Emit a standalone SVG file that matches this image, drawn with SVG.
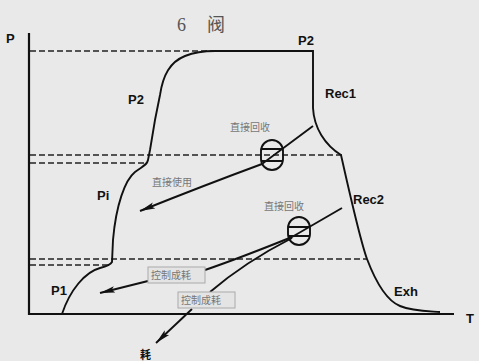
<svg xmlns="http://www.w3.org/2000/svg" width="479" height="361" viewBox="0 0 479 361">
<defs>
<style>
.ax{stroke:#111;stroke-width:2.2;fill:none}
.ln{stroke:#111;stroke-width:1.9;fill:none}
.ds{stroke:#222;stroke-width:1.6;stroke-dasharray:6 3;fill:none}
.lb{font-family:"Liberation Sans",Arial,sans-serif;font-weight:bold;font-size:13px;fill:#111}
.cn{font-family:"Liberation Serif","Noto Sans CJK SC",serif;font-size:10px;fill:#777}
.bx{fill:#e4e4e4;stroke:#aaa;stroke-width:1}
.tt{font-family:"Liberation Serif","Noto Sans CJK SC",serif;font-size:18px;fill:#555}
</style>
<marker id="ah" markerUnits="userSpaceOnUse" markerWidth="16" markerHeight="8" refX="15" refY="4" orient="auto">
<path d="M0,0.8 L15,4 L0,7.2 L3,4 z" fill="#111"/>
</marker>
</defs>
<rect width="479" height="361" fill="#e9e9e9"/>
<g id="title">
<text class="tt" x="177" y="31">6</text>
<text class="tt" x="207" y="31">阀</text>
</g>
<g id="axes">
<path class="ax" d="M29,33 V314 H454"/>
<text class="lb" x="6" y="43">P</text>
<text class="lb" x="466" y="323">T</text>
</g>
<g id="dashes">
<path class="ds" d="M30,51 H215"/>
<path class="ds" d="M30,155 H343"/>
<path class="ds" d="M30,163 H146"/>
<path class="ds" d="M30,259 H367"/>
<path class="ds" d="M30,265 H111"/>
</g>
<g id="curve">
<path class="ln" d="M62,314 C70,290 85,272 100,268 C108,266 111,264 112,262 L113,240 C116,205 125,180 135,172 C143,166 147,165 148,160 L150,150 L155,120 L160,95 C163,75 170,62 185,56 C195,52 205,51 215,51 H313 V108 C314,128 325,145 341,155 C350,195 360,240 367,259 C375,280 385,300 400,306 C412,311 425,311 440,312"/>
</g>
<g id="labels">
<text class="lb" x="298" y="45">P2</text>
<text class="lb" x="325" y="98">Rec1</text>
<text class="lb" x="128" y="104">P2</text>
<text class="lb" x="97" y="200">Pi</text>
<text class="lb" x="353" y="204">Rec2</text>
<text class="lb" x="51" y="295">P1</text>
<text class="lb" x="394" y="296">Exh</text>
<text class="cn" x="230" y="131">直接回收</text>
<text class="cn" x="152" y="186">直接使用</text>
<text class="cn" x="264" y="210">直接回收</text>
</g>
<g id="valve1">
<rect x="261" y="140" width="22" height="30" rx="11" ry="11" class="ln"/>
<path class="ln" d="M261,149 H283 M261,161 H283"/>
</g>
<g id="valve2">
<rect x="288" y="217" width="22" height="28" rx="11" ry="11" class="ln"/>
<path class="ln" d="M288,227 H310 M288,236 H310"/>
</g>
<g id="connectors">
<path class="ln" d="M313,126 L262,164 Q205,185 140,211" marker-end="url(#ah)"/>
<path class="ln" d="M342,208 L292,237 Q240,258 205,270"/>
<path class="ln" d="M292,238 Q245,262 210,292"/>
<path class="ln" d="M148,281 L100,293" marker-end="url(#ah)"/>
<path class="ln" d="M192,309 L156,343" marker-end="url(#ah)"/>
</g>
<g id="box1">
<rect class="bx" x="148" y="267" width="57" height="16"/>
<text class="cn" x="151" y="279">控制成耗</text>
</g>
<g id="box2">
<rect class="bx" x="178" y="292" width="57" height="16"/>
<text class="cn" x="181" y="304">控制成耗</text>
</g>
<text x="140" y="359" style="font-family:'Noto Sans CJK SC',sans-serif;font-weight:bold;font-size:11px;fill:#111">耗</text>
</svg>
